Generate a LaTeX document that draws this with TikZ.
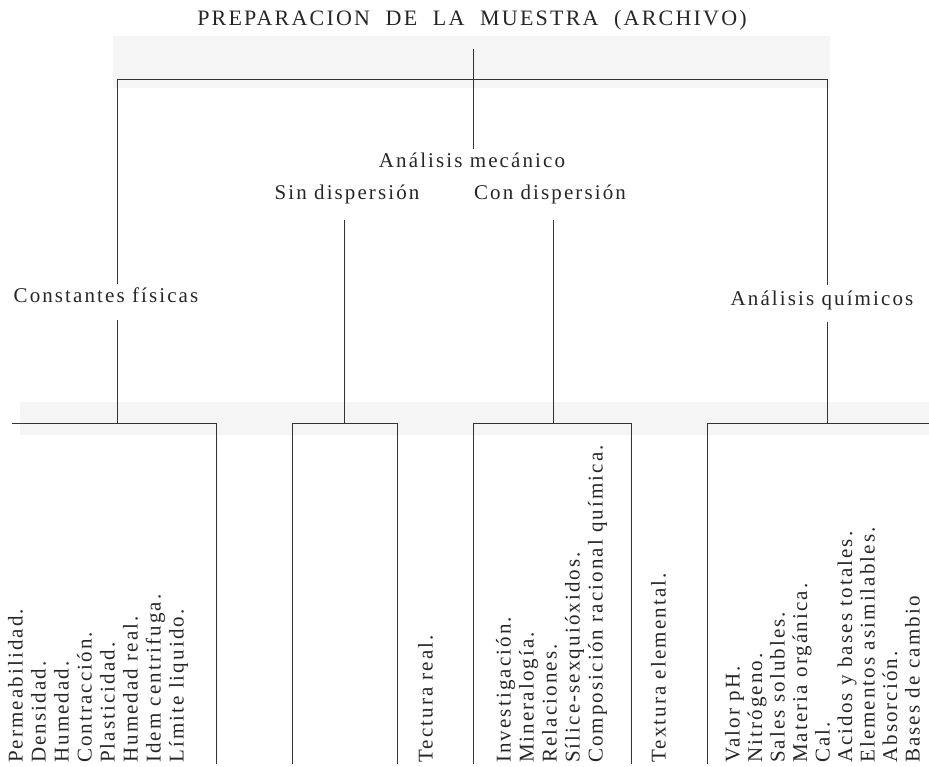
\documentclass[tikz,border=0pt]{standalone}
\usepackage{fontspec}
\setmainfont{Liberation Serif}[LetterSpace=10]
\begin{document}
\begin{tikzpicture}[x=1pt,y=-1pt,
  ln/.style={draw=black!80, line width=1pt},
  band/.style={fill=black!4, draw=none},
  lbl/.style={font=\fontsize{21}{23}\selectfont, text=black!85, inner sep=0pt, text height=0.7em, text depth=0.2em},
  ttl/.style={lbl, font=\fontsize{22}{24}\selectfont},
  vt/.style={lbl, rotate=90, anchor=west}]
\useasboundingbox (0,0) rectangle (929,767);
% faint scan bands
\fill[band] (113,36) rectangle (830,88);
\fill[band] (20,402) rectangle (929,435);
% labels
\node[ttl] (title) at (472,23) {PREPARACION\hspace{8pt} DE\hspace{8pt} LA\hspace{8pt} MUESTRA\hspace{8pt} (ARCHIVO)};
\node[lbl] (mec) at (472,165) {Análisis mecánico};
\node[lbl] (sin) at (347,197) {Sin dispersión};
\node[lbl] (con) at (550,197) {Con dispersión};
\node[lbl] (cf) at (106,300) {Constantes físicas};
\node[lbl] (aq) at (822,303) {Análisis químicos};
% junction coordinates
\coordinate (ta) at (473,49);
\coordinate (tb) at (473,149);
\coordinate (bl) at (117,80);
\coordinate (br) at (827,80);
\coordinate (cfa) at (117,284);
\coordinate (cfb) at (117,320);
\coordinate (cfc) at (117,423);
\coordinate (aqa) at (827,285);
\coordinate (aqb) at (827,322);
\coordinate (aqc) at (827,423);
\coordinate (sina) at (344,220);
\coordinate (sinb) at (344,423);
\coordinate (cona) at (553,220);
\coordinate (conb) at (553,423);
\coordinate (g1l) at (12,423);
\coordinate (g1r) at (216,423);
\coordinate (g1d) at (216,764);
\coordinate (g2l) at (292,423);
\coordinate (g2ld) at (292,764);
\coordinate (g2r) at (397,423);
\coordinate (g2rd) at (397,764);
\coordinate (g3l) at (473,423);
\coordinate (g3ld) at (473,764);
\coordinate (g3r) at (631,423);
\coordinate (g3rd) at (631,764);
\coordinate (g4l) at (707,423);
\coordinate (g4ld) at (707,764);
\coordinate (g4r) at (929,423);
% connectors
\draw[ln] (ta) -- (tb);
\draw[ln] (cfa) -- (bl) -- (br) -- (aqa);
\draw[ln] (cfb) -- (cfc);
\draw[ln] (aqb) -- (aqc);
\draw[ln] (sina) -- (sinb);
\draw[ln] (cona) -- (conb);
\draw[ln] (g1l) -- (g1r) -- (g1d);
\draw[ln] (g2ld) -- (g2l) -- (g2r) -- (g2rd);
\draw[ln] (g3ld) -- (g3l) -- (g3r) -- (g3rd);
\draw[ln] (g4ld) -- (g4l) -- (g4r);
% vertical item texts
\foreach \x/\t [count=\i] in {20/Permeabilidad., 43/Densidad., 66/Humedad., 89/Contracción., 112/Plasticidad., 135/Humedad real., 158/Idem centrifuga., 181/Límite liquido.}
  \node[vt] (fa\i) at (\x,763) {\t};
\node[vt] (sa1) at (430,763) {Tectura real.};
\foreach \x/\t [count=\i] in {508/Investigación., 531/Mineralogía., 554/Relaciones., 577/Sílice-sexquióxidos., 600/Composición racional química.}
  \node[vt] (ca\i) at (\x,763) {\t};
\node[vt] (ce1) at (663,763) {Textura elemental.};
\foreach \x/\t [count=\i] in {737/Valor pH., 759.5/Nitrógeno., 782/Sales solubles., 804.5/Materia orgánica., 827/Cal., 849.5/Acidos y bases totales., 872/Elementos asimilables., 894.5/Absorción., 917/Bases de cambio}
  \node[vt] (qa\i) at (\x,763) {\t};
\end{tikzpicture}
\end{document}
